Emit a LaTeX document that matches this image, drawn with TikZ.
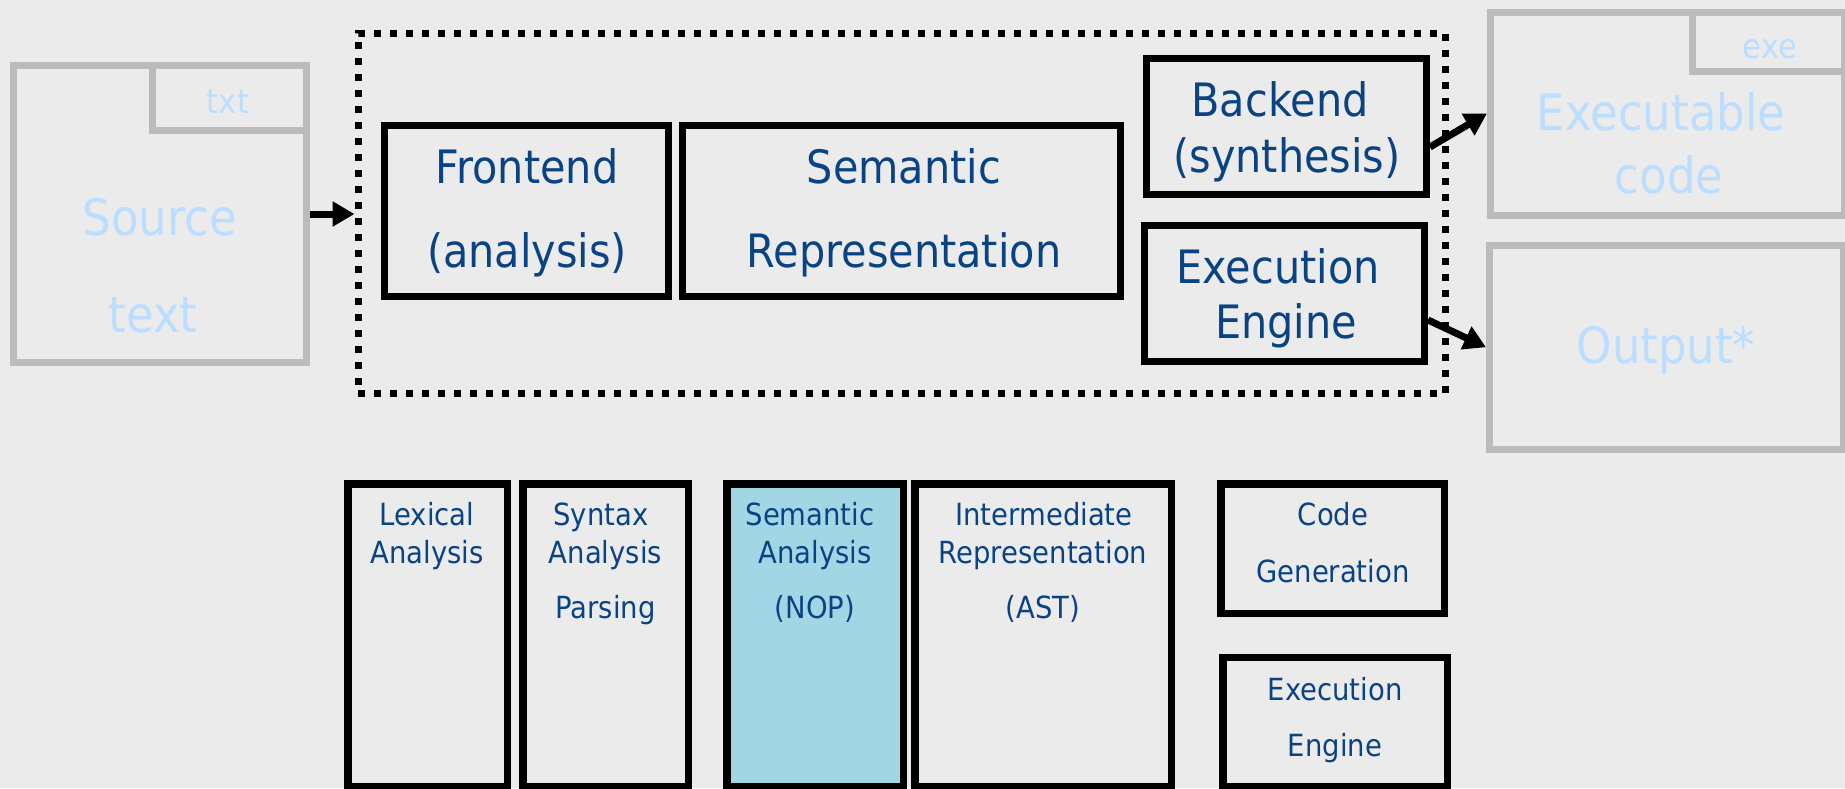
\documentclass[tikz,border=0pt]{standalone}
\usepackage{fontspec}
\setmainfont{DejaVu Sans}[FakeStretch=0.9]
\usetikzlibrary{arrows.meta}
\definecolor{bg}{HTML}{EBEBEB}
\definecolor{dblue}{HTML}{0A4383}
\definecolor{lblue}{HTML}{BBDDFF}
\definecolor{gborder}{HTML}{BBBBBB}
\definecolor{semfill}{HTML}{A3D6E4}
\begin{document}
\begin{tikzpicture}[x=1pt,y=-1pt,
  blk/.style={draw=black,line width=7pt,rectangle,inner sep=0pt},
  blkb/.style={draw=black,line width=7.5pt,rectangle,inner sep=0pt},
  gdoc/.style={draw=gborder,line width=7pt,rectangle,inner sep=0pt},
  bigt/.style={text=dblue,font=\fontsize{46}{46}\selectfont,anchor=base,inner sep=0pt},
  smt/.style={text=dblue,font=\fontsize{30.5}{30.5}\selectfont,anchor=base,inner sep=0pt},
  lt/.style={text=lblue,font=\fontsize{50}{50}\selectfont,anchor=base,inner sep=0pt},
  tabt/.style={text=lblue,font=\fontsize{34}{34}\selectfont,anchor=base,inner sep=0pt},
  arr/.style={draw=black,line width=7pt,-{Triangle[length=22pt,width=24pt]}}
]
\useasboundingbox (0,0) rectangle (1845,788);
\fill[bg] (0,0) rectangle (1845,788);

% ---- source document ----
\node[gdoc,minimum width=293pt,minimum height=297pt] (src) at (160,214) {};
\node[gdoc,minimum width=154.5pt,minimum height=64.5pt] (srctab) at (229.25,97.75) {};
\node[tabt] (srctabt) at (228,113) {txt};
\node[lt] (srct1) at (160,235) {Source};
\node[lt] (srct2) at (153,332) {text};

% ---- compiler stage (dotted) ----
\node[draw=black,line width=7pt,dash pattern=on 7pt off 9pt,rectangle,inner sep=0pt,
      minimum width=1087.5pt,minimum height=360pt] (stage) at (901.75,213) {};

\node[blk,minimum width=284pt,minimum height=171pt] (fe) at (526.5,211) {};
\node[bigt] (fet1) at (527,183) {Frontend};
\node[bigt] (fet2) at (527,267) {(analysis)};

\node[blk,minimum width=438pt,minimum height=171pt] (sr) at (901.5,211) {};
\node[bigt] (srt1) at (904,183) {Semantic};
\node[bigt] (srt2) at (904,267) {Representation};

\node[blk,minimum width=280pt,minimum height=136pt] (be) at (1286.5,126.5) {};
\node[bigt] (bet1) at (1280,116) {Backend};
\node[bigt] (bet2) at (1287,172) {(synthesis)};

\node[blk,minimum width=280pt,minimum height=136pt] (ee) at (1284.5,293.5) {};
\node[bigt] (eet1) at (1278,283) {Execution};
\node[bigt] (eet2) at (1286,338) {Engine};

% ---- executable document ----
\node[gdoc,minimum width=353.5pt,minimum height=203pt] (exe) at (1667.25,113.5) {};
\node[gdoc,minimum width=151.5pt,minimum height=59pt] (exetab) at (1768.25,41.5) {};
\node[tabt] (exetabt) at (1770,58) {exe};
\node[lt] (exet1) at (1661,130) {Executable};
\node[lt] (exet2) at (1669,193) {code};

% ---- output ----
\node[gdoc,minimum width=353.5pt,minimum height=203.5pt] (out) at (1666.25,347.25) {};
\node[lt] (outt) at (1666,363) {Output*};

% ---- arrows ----
\draw[arr] (src.east) -- (src.east -| stage.west);
\draw[arr] ([yshift=-20.5pt]be.east) -- (exe.west);
\draw[arr] ([yshift=-26.5pt]ee.east) -- (out.west);

% ---- bottom row ----
\node[blkb,minimum width=159.5pt,minimum height=303pt] (lex) at (427.5,635.5) {};
\node[smt] (lext1) at (427,525) {Lexical};
\node[smt] (lext2) at (427,563) {Analysis};

\node[blkb,minimum width=165.5pt,minimum height=303pt] (syn) at (605.5,635.5) {};
\node[smt] (synt1) at (601,525) {Syntax};
\node[smt] (synt2) at (605.5,563) {Analysis};
\node[smt] (synt3) at (605.5,618) {Parsing};

\node[blkb,fill=semfill,minimum width=176.5pt,minimum height=303pt] (sem) at (815,635.5) {};
\node[smt] (semt1) at (810,525) {Semantic};
\node[smt] (semt2) at (815,563) {Analysis};
\node[smt] (semt3) at (815,618) {(NOP)};

\node[blkb,minimum width=256.5pt,minimum height=303pt] (ir) at (1043,635.5) {};
\node[smt] (irt1) at (1044,525) {Intermediate};
\node[smt] (irt2) at (1043,563) {Representation};
\node[smt] (irt3) at (1043,618) {(AST)};

\node[blkb,minimum width=223.5pt,minimum height=129.5pt] (cg) at (1332.5,548.5) {};
\node[smt] (cgt1) at (1333,525) {Code};
\node[smt] (cgt2) at (1333,582) {Generation};

\node[blkb,minimum width=224.5pt,minimum height=129pt] (ee2) at (1335,722) {};
\node[smt] (ee2t1) at (1335,700) {Execution};
\node[smt] (ee2t2) at (1335,756) {Engine};
\end{tikzpicture}
\end{document}
